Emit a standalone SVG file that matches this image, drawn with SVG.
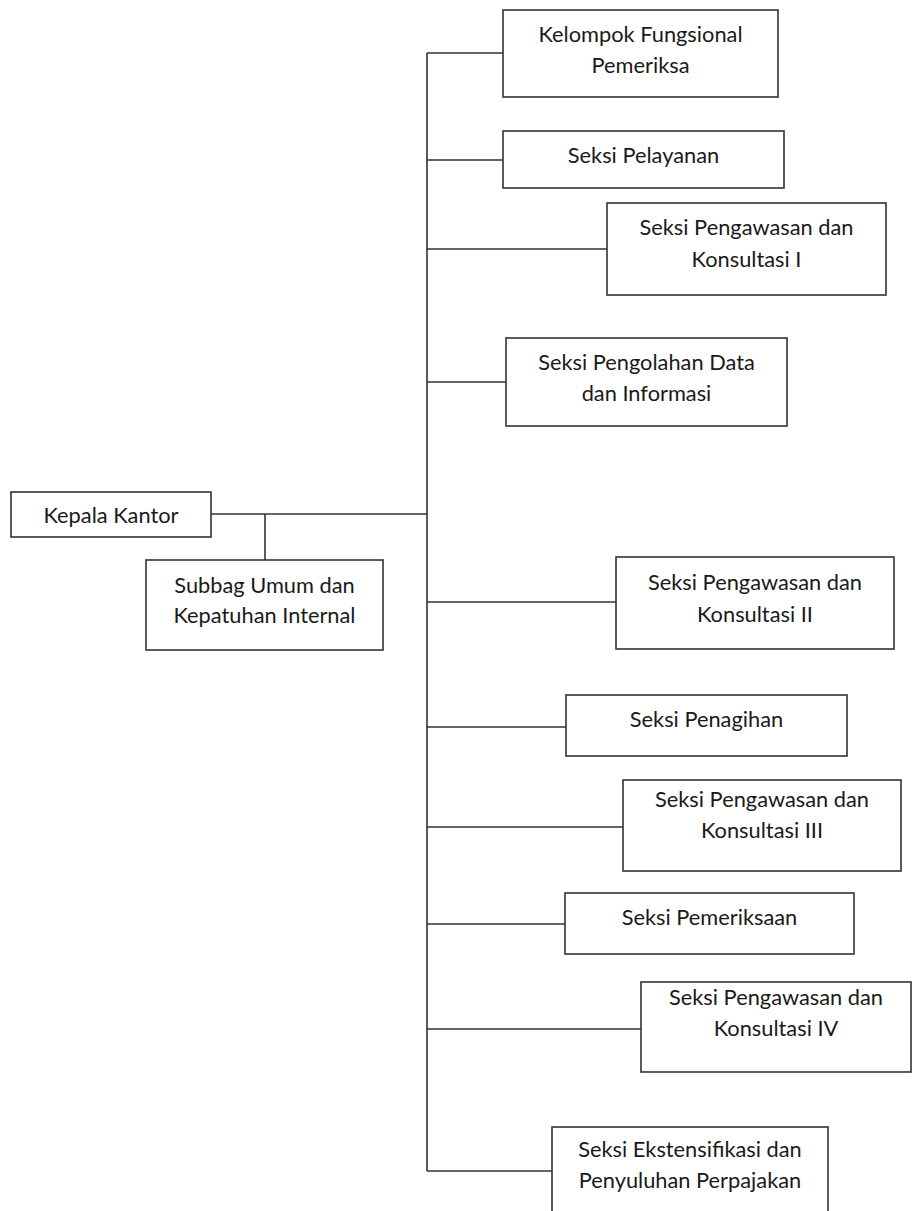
<svg xmlns="http://www.w3.org/2000/svg" width="912" height="1211" viewBox="0 0 912 1211">
<style>
.box{fill:#fff;stroke:#333;stroke-width:1.6}
.ln{stroke:#333;stroke-width:1.6;fill:none}
text{font-family:Lato,"Liberation Sans",sans-serif;font-size:21.8px;fill:#1a1a1a;text-anchor:middle}
</style>
<rect width="912" height="1211" fill="#fff"/>
<g id="connectors">
<line class="ln" x1="427" y1="53" x2="427" y2="1171"/>
<line class="ln" x1="427" y1="53" x2="503" y2="53"/>
<line class="ln" x1="427" y1="160" x2="503" y2="160"/>
<line class="ln" x1="427" y1="249" x2="607" y2="249"/>
<line class="ln" x1="427" y1="382" x2="506" y2="382"/>
<line class="ln" x1="211" y1="514" x2="427" y2="514"/>
<line class="ln" x1="265" y1="514" x2="265" y2="560"/>
<line class="ln" x1="427" y1="602" x2="616" y2="602"/>
<line class="ln" x1="427" y1="727" x2="566" y2="727"/>
<line class="ln" x1="427" y1="827" x2="623" y2="827"/>
<line class="ln" x1="427" y1="924" x2="565" y2="924"/>
<line class="ln" x1="427" y1="1029" x2="641" y2="1029"/>
<line class="ln" x1="427" y1="1171" x2="552" y2="1171"/>
</g>
<g id="kelompok">
<rect class="box" x="503" y="10" width="275" height="87"/>
<text x="640.5" y="42">Kelompok Fungsional</text>
<text x="640.5" y="73">Pemeriksa</text>
</g>
<g id="pelayanan">
<rect class="box" x="503" y="131" width="281" height="57"/>
<text x="643.5" y="163">Seksi Pelayanan</text>
</g>
<g id="pengawasan1">
<rect class="box" x="607" y="203" width="279" height="92"/>
<text x="746.5" y="235">Seksi Pengawasan dan</text>
<text x="746.5" y="267">Konsultasi I</text>
</g>
<g id="pengolahan">
<rect class="box" x="506" y="338" width="281" height="88"/>
<text x="646.5" y="370">Seksi Pengolahan Data</text>
<text x="646.5" y="401">dan Informasi</text>
</g>
<g id="kepala">
<rect class="box" x="11" y="492" width="200" height="45"/>
<text x="111" y="523">Kepala Kantor</text>
</g>
<g id="subbag">
<rect class="box" x="146" y="560" width="237" height="90"/>
<text x="264.5" y="593">Subbag Umum dan</text>
<text x="264.5" y="623">Kepatuhan Internal</text>
</g>
<g id="pengawasan2">
<rect class="box" x="616" y="557" width="278" height="92"/>
<text x="755" y="590">Seksi Pengawasan dan</text>
<text x="755" y="622">Konsultasi II</text>
</g>
<g id="penagihan">
<rect class="box" x="566" y="695" width="281" height="61"/>
<text x="706.5" y="727">Seksi Penagihan</text>
</g>
<g id="pengawasan3">
<rect class="box" x="623" y="780" width="278" height="91"/>
<text x="762" y="807">Seksi Pengawasan dan</text>
<text x="762" y="838">Konsultasi III</text>
</g>
<g id="pemeriksaan">
<rect class="box" x="565" y="893" width="289" height="61"/>
<text x="709.5" y="925">Seksi Pemeriksaan</text>
</g>
<g id="pengawasan4">
<rect class="box" x="641" y="982" width="270" height="90"/>
<text x="776" y="1005">Seksi Pengawasan dan</text>
<text x="776" y="1036">Konsultasi IV</text>
</g>
<g id="ekstensifikasi">
<rect class="box" x="552" y="1127" width="276" height="90"/>
<text x="690" y="1157">Seksi Ekstensifikasi dan</text>
<text x="690" y="1188">Penyuluhan Perpajakan</text>
</g>
</svg>
